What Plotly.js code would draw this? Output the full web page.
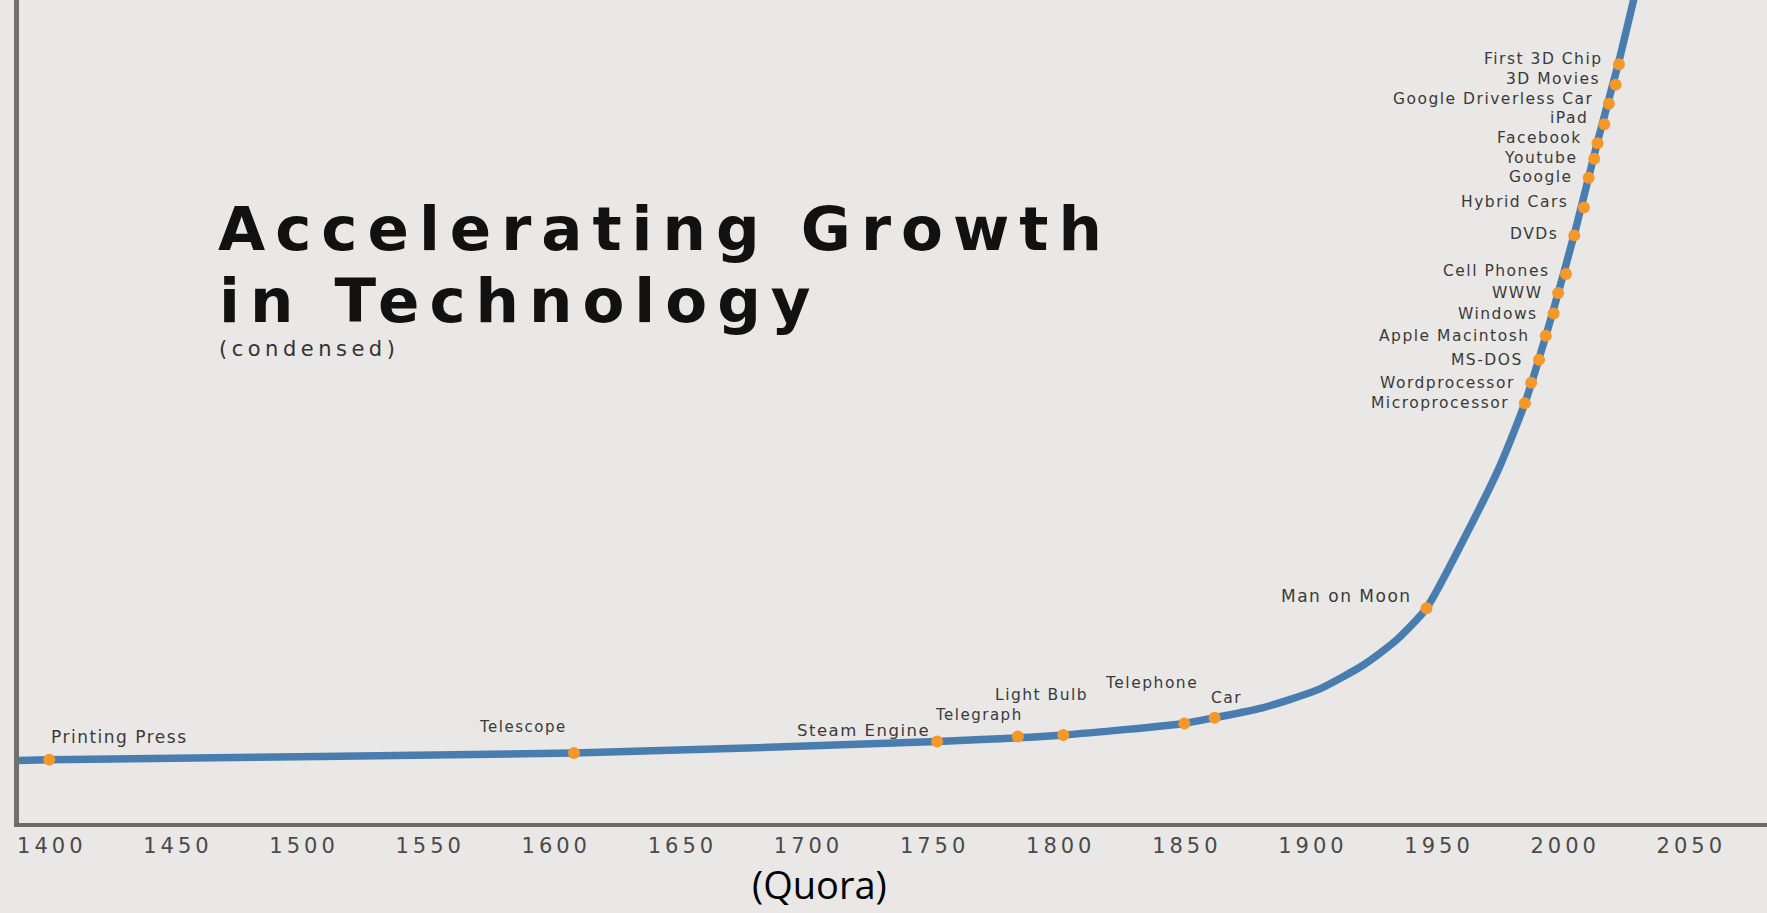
<!DOCTYPE html>
<html>
<head>
<meta charset="utf-8">
<script src="https://cdn.plot.ly/plotly-3.0.1.min.js"></script>
<style>
html, body { margin: 0; padding: 0; background: #e9e8e6; }
#chart { width: 1767px; height: 913px; }
.xtick text { letter-spacing: 4px; }
.gtitle { letter-spacing: 10px; }
</style>
</head>
<body>
<div id="chart"></div>
<script>
// ---- data ----
const eventNames = [
  "Printing Press", "Telescope", "Steam Engine", "Telegraph", "Light Bulb",
  "Telephone", "Car", "Man on Moon", "Microprocessor", "Wordprocessor",
  "MS-DOS", "Apple Macintosh", "Windows", "WWW", "Cell Phones", "DVDs",
  "Hybrid Cars", "Google", "Youtube", "Facebook", "iPad",
  "Google Driverless Car", "3D Movies", "First 3D Chip"
];
const eventYears = [
  1399, 1607, 1751, 1783, 1801, 1849, 1861, 1945, 1984, 1986.5,
  1989.6, 1992.3, 1995.4, 1997.2, 2000.3, 2003.6, 2007.4, 2009.3, 2011.5, 2012.8,
  2015.5, 2017.3, 2020, 2021.3
];
const eventLevels = [
  7.7, 8.5, 9.9, 10.5, 10.7, 12.1, 12.8, 26.1, 51.0, 53.5,
  56.3, 59.2, 61.9, 64.4, 66.7, 71.4, 74.8, 78.4, 80.7, 82.6,
  84.9, 87.4, 89.7, 92.2
];
const curveYears = [1387, 1399, 1607, 1751, 1801, 1849, 1861, 1880, 1902, 1920, 1933, 1945, 1961, 1974, 1984, 1995, 2004, 2013, 2021, 2027.5];
const curveLevels = [7.6, 7.7, 8.5, 9.9, 10.7, 12.1, 12.8, 14.0, 16.2, 19.2, 22.2, 26.1, 35.2, 43.3, 51.0, 62.0, 72.0, 83.0, 92.2, 100.5];
const tickStart = 1400;
const tickStep = 50;
const titleLine1 = "Accelerating Growth";
const titleLine2 = "in Technology";
const subtitleText = "(condensed)";
const sourceText = "(Quora)";

// ---- label placement (style, not data): anchor, x offset px, y offset px, font size ----
const labelPlacement = {
  "Printing Press": ["left", 0, 23, 17],
  "Telescope": ["center", -51, 26, 15],
  "Steam Engine": ["right", -5, 11, 16.5],
  "Telegraph": ["center", -39, 22, 15],
  "Light Bulb": ["center", -22, 40, 15.5],
  "Telephone": ["center", -33, 40, 15.5],
  "Car": ["center", 12, 20, 15.5],
  "Man on Moon": ["right", -12, 12, 17],
  "Microprocessor": ["right", -14, 0, 15.5],
  "Wordprocessor": ["right", -14, 0, 15.5],
  "MS-DOS": ["right", -14, 0, 15.5],
  "Apple Macintosh": ["right", -14, 0, 15.5],
  "Windows": ["right", -14, 0, 15.5],
  "WWW": ["right", -14, 0, 15.5],
  "Cell Phones": ["right", -14, 3, 15.5],
  "DVDs": ["right", -14, 1, 15.5],
  "Hybrid Cars": ["right", -14, 5.5, 15.5],
  "Google": ["right", -14, 1, 15.5],
  "Youtube": ["right", -14, 1, 15.5],
  "Facebook": ["right", -14, 5.5, 15.5],
  "iPad": ["right", -14, 6.5, 15.5],
  "Google Driverless Car": ["right", -14, 4.5, 15.5],
  "3D Movies": ["right", -14, 5.5, 15.5],
  "First 3D Chip": ["right", -14, 5.5, 15.5]
};

function spaced(t, px) {
  return '<span style="letter-spacing:' + px + 'px">' + t + '</span>';
}

const LINE_BLUE = '#497db0';
const DOT_ORANGE = '#f5982a';
const LABEL_COLOR = '#3a3a3a';

const traces = [
  {
    type: 'scatter', mode: 'lines', name: 'Technology',
    x: curveYears, y: curveLevels,
    line: { color: LINE_BLUE, width: 7.5, shape: 'spline', smoothing: 0.6 },
    hoverinfo: 'skip', showlegend: false
  },
  {
    type: 'scatter', mode: 'markers', name: 'Milestones',
    x: eventYears, y: eventLevels, text: eventNames,
    marker: { color: DOT_ORANGE, size: 12, line: { width: 0 } },
    hovertemplate: '%{text}<extra></extra>', showlegend: false
  }
];

const annotations = [];
annotations.push({
  xref: 'paper', yref: 'paper', x: 0.1135, y: (823 - 300) / 823, xanchor: 'left', yanchor: 'middle',
  text: spaced(titleLine2, 10), showarrow: false,
  font: { family: 'DejaVu Sans', size: 61, weight: 'bold', color: '#111111' }
});
annotations.push({
  xref: 'paper', yref: 'paper', x: 0.1135, y: (823 - 349) / 823, xanchor: 'left', yanchor: 'middle',
  text: spaced(subtitleText, 4.5), showarrow: false,
  font: { family: 'DejaVu Sans', size: 21, color: '#333333' }
});
annotations.push({
  xref: 'paper', yref: 'paper', x: 0.458, y: (823 - 884) / 823, xanchor: 'center', yanchor: 'middle',
  text: sourceText, showarrow: false,
  font: { family: 'Open Sans', size: 38, color: '#000000' }
});
eventNames.forEach(function (name, i) {
  const p = labelPlacement[name];
  annotations.push({
    xref: 'x', yref: 'y', x: eventYears[i], y: eventLevels[i],
    xanchor: p[0], yanchor: 'middle', xshift: p[1], yshift: p[2],
    text: spaced(name, 1.5), showarrow: false,
    font: { family: 'DejaVu Sans', size: p[3], color: LABEL_COLOR }
  });
});

const layout = {
  width: 1767, height: 913,
  paper_bgcolor: '#e9e8e6', plot_bgcolor: '#e9e8e6',
  margin: { l: 19, r: 0, t: 0, b: 90 },
  title: {
    text: titleLine1,
    xref: 'container', yref: 'container',
    x: 218 / 1767, xanchor: 'left',
    y: 1 - 229 / 913, yanchor: 'middle',
    font: { family: 'DejaVu Sans', size: 61, weight: 'bold', color: '#111111' }
  },
  xaxis: {
    range: [1387, 2080], tick0: tickStart, dtick: tickStep,
    showgrid: false, zeroline: false, showline: true,
    linecolor: '#6b6b6b', linewidth: 4, ticks: '',
    ticklabelstandoff: 1,
    tickfont: { family: 'DejaVu Sans', size: 21, color: '#4a4a4a' },
    fixedrange: true
  },
  yaxis: {
    range: [0, 100], showgrid: false, zeroline: false, showline: true,
    linecolor: '#707070', linewidth: 5, showticklabels: false, ticks: '',
    fixedrange: true
  },
  annotations: annotations,
  showlegend: false
};

Plotly.newPlot('chart', traces, layout, { displayModeBar: false, staticPlot: true });
</script>
</body>
</html>
